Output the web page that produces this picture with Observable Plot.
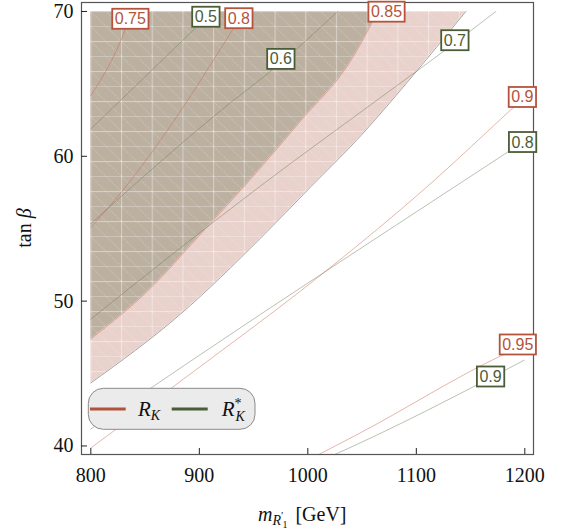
<!DOCTYPE html>
<html><head><meta charset="utf-8">
<script src="https://cdn.jsdelivr.net/npm/d3@7"></script>
<script src="https://cdn.jsdelivr.net/npm/@observablehq/plot@0.6"></script>
<style>body{margin:0;background:#fff} #chart{position:relative;width:565px;height:532px}</style>
</head><body><div id="chart"></div>
<script>
const xTicks = [800, 900, 1000, 1100, 1200];
const yTicks = [40, 50, 60, 70];
const xDomain = [791.4, 1208];
const yDomain = [39.41, 70.62];
const yTop = 70;

// excluded regions (lower-right boundary of each, filled up to tan beta = 70)
const pinkEdgeX = [800, 882.9, 956.7, 1002.8, 1048.8, 1096.8, 1145.6];
const pinkEdgeY = [44.35, 49.12, 54.37, 57.90, 61.42, 65.57, 70];
const darkEdgeX = [800, 852.5, 901.4, 947.5, 993.5, 1039.6, 1064.5];
const darkEdgeY = [47.39, 50.71, 54.65, 58.45, 62.46, 66.61, 70];

// R_K contours
const rk075X = [800, 827.6, 838];            const rk075Y = [64.19, 67.99, 70];
const rk080X = [800, 829.2, 882.9, 924.4, 941.5]; const rk080Y = [55.09, 57.62, 63.15, 67.99, 70];
const rk085X = darkEdgeX;                    const rk085Y = darkEdgeY;
const rk090X = [800, 907.8, 993.5, 1116.1, 1186.2, 1200]; const rk090Y = [39.86, 45.87, 50.71, 58.31, 63.15, 64.1];
const rk095X = [1010.1, 1048.8, 1177.9, 1200]; const rk095Y = [39.41, 40.92, 46.22, 46.98];

// R_K* contours
const rs050X = [800, 884.5, 894, 912.3];     const rs050Y = [61.89, 67.99, 68.68, 70];
const rs060X = [800, 844.2, 929, 963.1, 1027.6]; const rs060Y = [55.34, 58.31, 63.72, 65.71, 70];
const rs070X = [800, 956.7, 1067.3, 1123.5, 1173.3]; const rs070Y = [48.76, 57.97, 64.07, 67.16, 70];
const rs080X = [800, 892.2, 1143.8, 1186.2, 1200]; const rs080Y = [41.17, 45.87, 58.31, 60.39, 61.06];
const rs090X = [1024.9, 1048.8, 1199.4];     const rs090Y = [39.41, 40.23, 45.92];

// contour labels
const rkLabelText = ["0.75", "0.8", "0.85", "0.9", "0.95"];
const rkLabelX = [836.4, 936.4, 1072.5, 1197.7, 1193.5];
const rkLabelY = [69.47, 69.51, 69.96, 64.07, 46.98];
const rsLabelText = ["0.5", "0.6", "0.7", "0.8", "0.9"];
const rsLabelX = [906, 975.1, 1135.5, 1197.9, 1168.4];
const rsLabelY = [69.61, 66.70, 67.99, 60.96, 44.77];

const legendNames = ["R_K", "R_K*"];

const RED = "#b5533c", GREEN = "#4b5d36";
const W = 565, H = 532, ML = 81, MR = 32, MT = 2, MB = 78;
const plotW = W - ML - MR, plotH = H - MT - MB;

const toPts = (xs, ys, extra = {}) => xs.map((x, i) => ({x, y: ys[i], ...extra}));
const pink = toPts(pinkEdgeX, pinkEdgeY);
const dark = toPts(darkEdgeX, darkEdgeY);
const rkLines = [
  ...toPts(rk075X, rk075Y, {k: "0.75"}), ...toPts(rk080X, rk080Y, {k: "0.8"}),
  ...toPts(rk085X, rk085Y, {k: "0.85"}), ...toPts(rk090X, rk090Y, {k: "0.9"}),
  ...toPts(rk095X, rk095Y, {k: "0.95"})
];
const rsLines = [
  ...toPts(rs050X, rs050Y, {k: "0.5"}), ...toPts(rs060X, rs060Y, {k: "0.6"}),
  ...toPts(rs070X, rs070Y, {k: "0.7"}), ...toPts(rs080X, rs080Y, {k: "0.8"}),
  ...toPts(rs090X, rs090Y, {k: "0.9"})
];
const rkLabels = rkLabelText.map((t, i) => ({t, x: rkLabelX[i], y: rkLabelY[i]}));
const rsLabels = rsLabelText.map((t, i) => ({t, x: rsLabelX[i], y: rsLabelY[i]}));

const serif = "'Liberation Serif', 'DejaVu Serif', serif";
const sans = "'Liberation Sans', Arial, sans-serif";

const chart = Plot.plot({
  width: W, height: H,
  marginLeft: ML, marginRight: MR, marginTop: MT, marginBottom: MB,
  x: {domain: xDomain, label: null},
  y: {domain: yDomain, label: null},
  marks: [
    Plot.areaY(pink, {x: "x", y1: "y", y2: () => yTop, fill: "#e9d1cc", curve: "monotone-x"}),
    Plot.areaY(pink, {x: "x", y1: "y", y2: () => yTop, fill: "url(#mesh)", curve: "monotone-x"}),
    Plot.areaY(dark, {x: "x", y1: "y", y2: () => yTop, fill: "#bcb0a1", curve: "monotone-x"}),
    Plot.areaY(dark, {x: "x", y1: "y", y2: () => yTop, fill: "url(#mesh)", curve: "monotone-x"}),
    Plot.line(pink, {x: "x", y: "y", stroke: "#999", strokeWidth: 0.9, curve: "monotone-x"}),
    Plot.line(rsLines, {x: "x", y: "y", z: "k", stroke: "#6f7d5c", strokeOpacity: 0.6, strokeWidth: 0.8, curve: "monotone-x"}),
    Plot.line(rkLines, {x: "x", y: "y", z: "k", stroke: "#c8654c", strokeOpacity: 0.6, strokeWidth: 0.8, curve: "monotone-x"}),
    Plot.frame({stroke: "#555", strokeWidth: 1.2}),
    Plot.tickX(xTicks, {x: d => d, insetTop: plotH - 6, stroke: "#222", strokeWidth: 1}),
    Plot.tickY(yTicks, {y: d => d, insetRight: plotW - 6, stroke: "#222", strokeWidth: 1}),
    Plot.axisX({ticks: xTicks, tickSize: 0, tickPadding: 13, tickFormat: d => `${d}`, fontSize: 20, fontFamily: serif, fill: "#111", label: null}),
    Plot.axisY({ticks: yTicks, tickSize: 0, tickPadding: 8, tickFormat: d => `${d}`, fontSize: 20, fontFamily: serif, fill: "#111", label: null}),
    Plot.text(rkLabels, {x: "x", y: "y", text: "t", fill: RED, fontSize: 16, fontFamily: sans}),
    Plot.text(rsLabels, {x: "x", y: "y", text: "t", fill: GREEN, fontSize: 16, fontFamily: sans})
  ]
});
document.getElementById("chart").appendChild(chart);

const svg = d3.select(chart);
svg.style("overflow", "visible");
// mesh pattern
const defs = svg.insert("defs", ":first-child");
const pat = defs.append("pattern").attr("id", "mesh").attr("patternUnits", "userSpaceOnUse")
  .attr("width", 30.7).attr("height", 30).attr("x", 90.3).attr("y", 11);
pat.append("line").attr("x1", 0.5).attr("y1", 0).attr("x2", 0.5).attr("y2", 30).attr("stroke", "#fff").attr("stroke-opacity", 0.4).attr("stroke-width", 1.2);
pat.append("line").attr("x1", 0).attr("y1", 0.5).attr("x2", 30.7).attr("y2", 0.5).attr("stroke", "#fff").attr("stroke-opacity", 0.4).attr("stroke-width", 1.2);
pat.append("line").attr("x1", 0).attr("y1", 15.5).attr("x2", 30.7).attr("y2", 15.5).attr("stroke", "#fff").attr("stroke-opacity", 0.25).attr("stroke-width", 1);
[[0, 0, 30.7, 30], [15.35, 0, 30.7, 15], [0, 15, 15.35, 30]].forEach(([a, b, c, d]) =>
  pat.append("line").attr("x1", a).attr("y1", b).attr("x2", c).attr("y2", d)
    .attr("stroke", "#fff").attr("stroke-opacity", 0.45).attr("stroke-width", 0.8).attr("stroke-dasharray", "1 1.2"));

// label boxes (the two text marks are the last two groups labelled "text")
const textGroups = svg.selectAll('g[aria-label="text"]').nodes();
function boxes(group, color) {
  d3.select(group).selectAll("text").each(function () {
    const b = this.getBBox();
    const tr = this.getAttribute("transform");
    const r = d3.select(group).insert("rect", () => this)
      .attr("x", b.x - 2.5).attr("y", b.y - 1.5).attr("width", b.width + 5).attr("height", b.height + 3)
      .attr("fill", "#fff").attr("stroke", color).attr("stroke-width", 1.8);
    if (tr) r.attr("transform", tr);
  });
}
boxes(textGroups[textGroups.length - 2], RED);
boxes(textGroups[textGroups.length - 1], GREEN);

// axis titles
const xt = svg.append("text").attr("x", 258).attr("y", 521).attr("text-anchor", "start")
  .attr("font-family", serif).attr("font-size", 20).attr("fill", "#111");
xt.append("tspan").attr("font-style", "italic").text("m");
xt.append("tspan").attr("font-style", "italic").attr("font-size", 14).attr("dy", 4).text("R");
xt.append("tspan").attr("font-size", 11).attr("dy", -6).text("′");
xt.append("tspan").attr("font-size", 10).attr("dx", -1).attr("dy", 9).text("1");
xt.append("tspan").attr("dy", -7).attr("dx", 8).text("[GeV]");

const yt = svg.append("text").attr("transform", "translate(31,228) rotate(-90)").attr("text-anchor", "middle")
  .attr("font-family", serif).attr("font-size", 20).attr("fill", "#111");
yt.append("tspan").text("tan ");
yt.append("tspan").attr("font-style", "italic").text("β");

// legend
const lg = svg.append("g");
lg.append("rect").attr("x", 88.3).attr("y", 388.3).attr("width", 166.7).attr("height", 41).attr("rx", 15)
  .attr("fill", "#ebebeb").attr("stroke", "#8a8a8a").attr("stroke-width", 1);
lg.append("line").attr("x1", 90).attr("x2", 125.7).attr("y1", 409).attr("y2", 409).attr("stroke", "#b0533a").attr("stroke-width", 3);
lg.append("line").attr("x1", 171.7).attr("x2", 207.7).attr("y1", 409).attr("y2", 409).attr("stroke", GREEN).attr("stroke-width", 3);
const l1 = lg.append("text").attr("x", 138).attr("y", 416).attr("text-anchor", "start").attr("font-family", serif).attr("font-size", 21).attr("font-style", "italic").attr("fill", "#111");
l1.append("tspan").text(legendNames[0][0]);
l1.append("tspan").attr("font-size", 14).attr("dy", 4).text(legendNames[0][2]);
const l2 = lg.append("text").attr("x", 221.7).attr("y", 416).attr("text-anchor", "start").attr("font-family", serif).attr("font-size", 21).attr("font-style", "italic").attr("fill", "#111");
l2.append("tspan").text(legendNames[1][0]);
l2.append("tspan").attr("font-size", 14).attr("dy", -8).attr("font-style", "normal").text("*");
l2.append("tspan").attr("font-size", 14).attr("dx", -6).attr("dy", 13).text(legendNames[1][2]);
</script></body></html>
